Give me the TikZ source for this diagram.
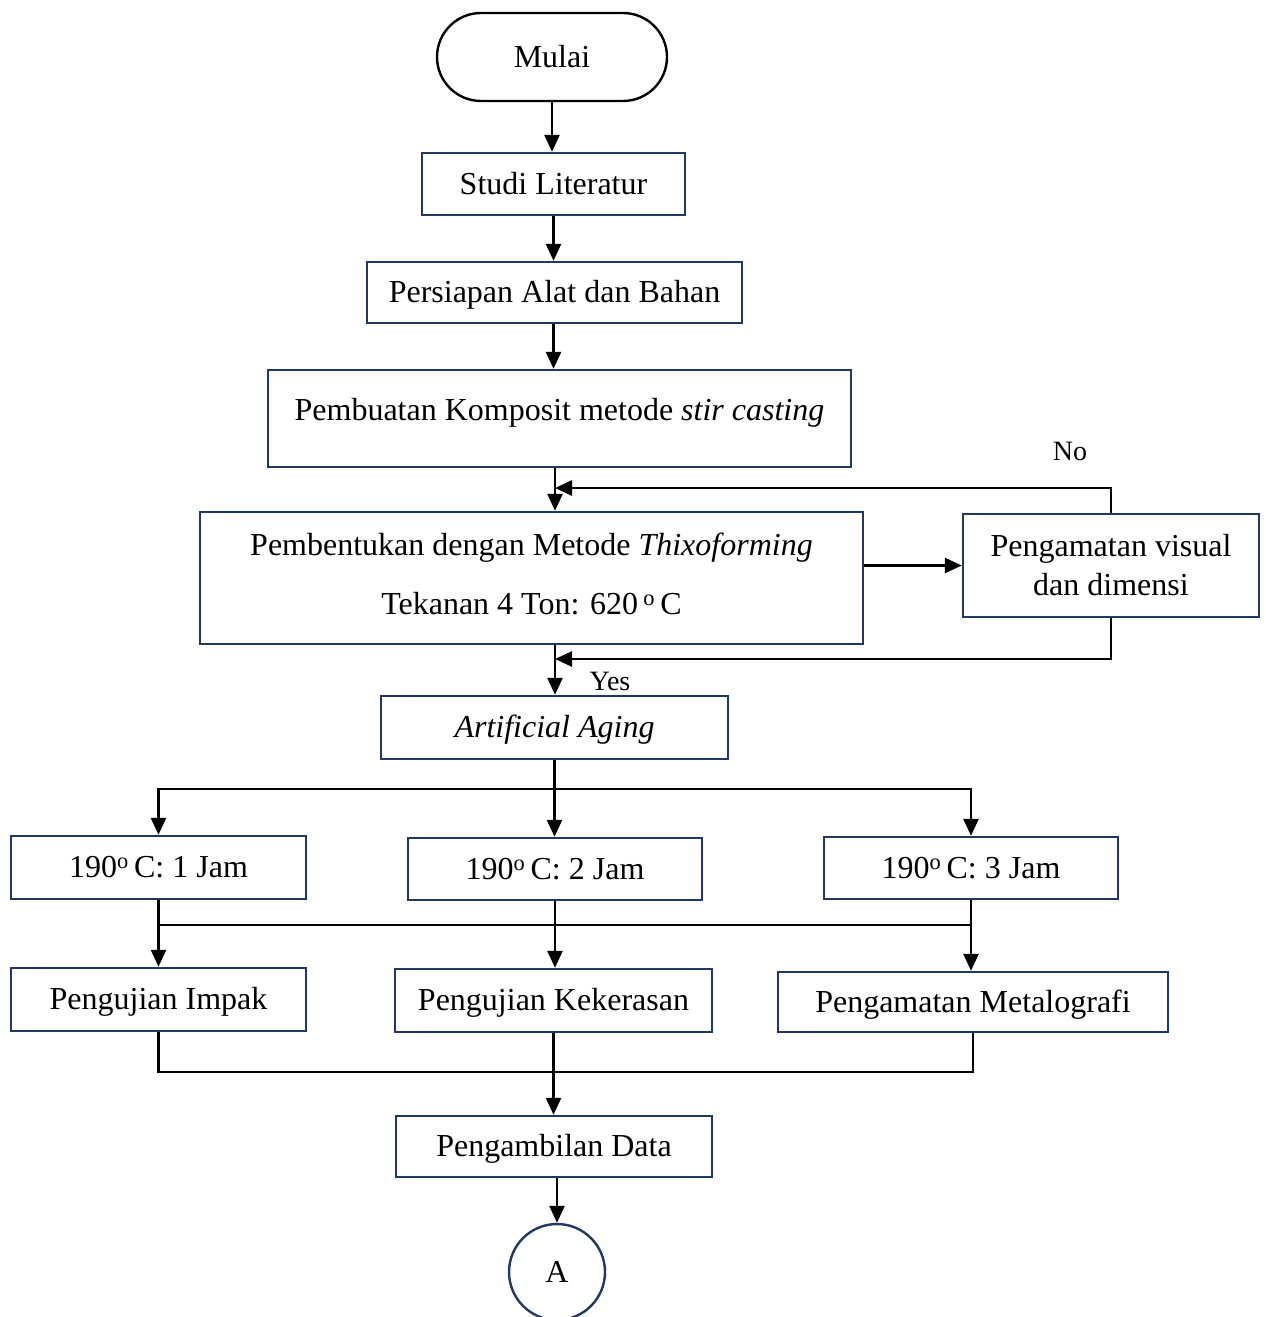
\documentclass[tikz,border=0pt]{standalone}
\usepackage{fontspec}
\setmainfont{Liberation Serif}
\usetikzlibrary{arrows.meta,calc}
\definecolor{navy}{RGB}{31,56,100}
\begin{document}
\begin{tikzpicture}[x=1pt,y=-1pt,
  every node/.style={font=\fontsize{32}{38}\selectfont, inner sep=0pt},
  box/.style={draw=navy, line width=2.4pt, fill=white},
  sbox/.style={box, text height=25pt, text depth=4.5pt},
  conn/.style={line width=2.6pt, black},
  arr/.style={conn, -{Triangle[length=17pt,width=15pt]}},
  lbl/.style={font=\fontsize{28}{34}\selectfont}]
\useasboundingbox (0,0) rectangle (1266,1317);
% nodes
\node[draw=black, line width=2.4pt, rounded corners=44pt, minimum width=230pt, minimum height=88pt] (mulai) at (552,57) {Mulai};
\node[sbox, minimum width=263pt, minimum height=62pt] (studi) at (553.5,184) {Studi Literatur};
\node[sbox, minimum width=375pt, minimum height=61pt] (persiapan) at (554.5,292.5) {Persiapan Alat dan Bahan};
\node[box, minimum width=583pt, minimum height=97pt, text height=24pt, text depth=21pt] (pk) at (559.5,418.5) {Pembuatan Komposit metode \textit{stir casting}};
\node[box, minimum width=663pt, minimum height=132pt] (pb) at (531.5,578) {};
\node[align=center, font=\fontsize{32}{59}\selectfont, yshift=4pt] (pbt) at (pb.center) {Pembentukan dengan Metode \textit{Thixoforming}\\Tekanan 4 Ton: 620\,\textsuperscript{o}\,C};
\node[box, minimum width=296pt, minimum height=103pt, align=center, font=\fontsize{32}{39}\selectfont] (vis) at (1111,565.5) {Pengamatan visual\\dan dimensi};
\node[sbox, minimum width=347pt, minimum height=63pt] (aa) at (554.5,727.5) {\textit{Artificial Aging}};
\node[sbox, minimum width=295pt, minimum height=63pt] (t1) at (158.5,867.5) {190\textsuperscript{o}\,C: 1 Jam};
\node[sbox, minimum width=294pt, minimum height=62pt] (t2) at (555,869) {190\textsuperscript{o}\,C: 2 Jam};
\node[sbox, minimum width=294pt, minimum height=62pt] (t3) at (971,868) {190\textsuperscript{o}\,C: 3 Jam};
\node[sbox, minimum width=295pt, minimum height=63pt] (u1) at (158.5,999.5) {Pengujian Impak};
\node[sbox, minimum width=317pt, minimum height=63pt] (u2) at (553.5,1000.5) {Pengujian Kekerasan};
\node[sbox, minimum width=390pt, minimum height=60pt] (u3) at (973,1002) {Pengamatan Metalografi};
\node[sbox, minimum width=316pt, minimum height=61pt] (pd) at (554,1146.5) {Pengambilan Data};
\node[draw=navy, line width=2.4pt, circle, minimum size=96pt] (a) at (557,1272) {A};
\node[lbl] (no) at (1070,451) {No};
\node[lbl] (yes) at (610,681) {Yes};
% coordinates
\coordinate (c1) at (555,488);
\coordinate (c2) at (555,659);
\coordinate (c3) at (0,789);
\coordinate (br) at (aa.south |- c3);
\coordinate (m) at (0,925);
\coordinate (j) at (0,1072);
% connectors
\draw[arr] (mulai.south) -- (mulai.south |- studi.north);
\draw[arr] (studi.south) -- (studi.south |- persiapan.north);
\draw[arr] (persiapan.south -| studi.south) -- (studi.south |- pk.north);
\draw[arr] (pk.south -| c1) -- (pb.north -| c1);
\draw[arr] (vis.north) |- (c1);
\draw[arr] (pb.east |- vis.west) -- (vis.west);
\draw[arr] (vis.south) |- (c2);
\draw[arr] (pb.south -| c1) -- (aa.north -| c1);
\draw[conn] (aa.south) -- (br);
\draw[arr] (br) -| (t1.north);
\draw[arr] (br) -| (t3.north);
\draw[arr] (br) -- (br |- t2.north);
\draw[conn] (t1.south |- m) -- (t3.south |- m);
\draw[arr] (t1.south) -- (u1.north);
\draw[arr] (t2.south) -- (t2.south |- u2.north);
\draw[arr] (t3.south) -- (t3.south |- u3.north);
\draw[conn] (u1.south) -- (u1.south |- j) -- (u3.south |- j) -- (u3.south);
\draw[arr] (u2.south) -- (u2.south |- pd.north);
\draw[arr] (pd.south -| a) -- (a.north);
\end{tikzpicture}
\end{document}
